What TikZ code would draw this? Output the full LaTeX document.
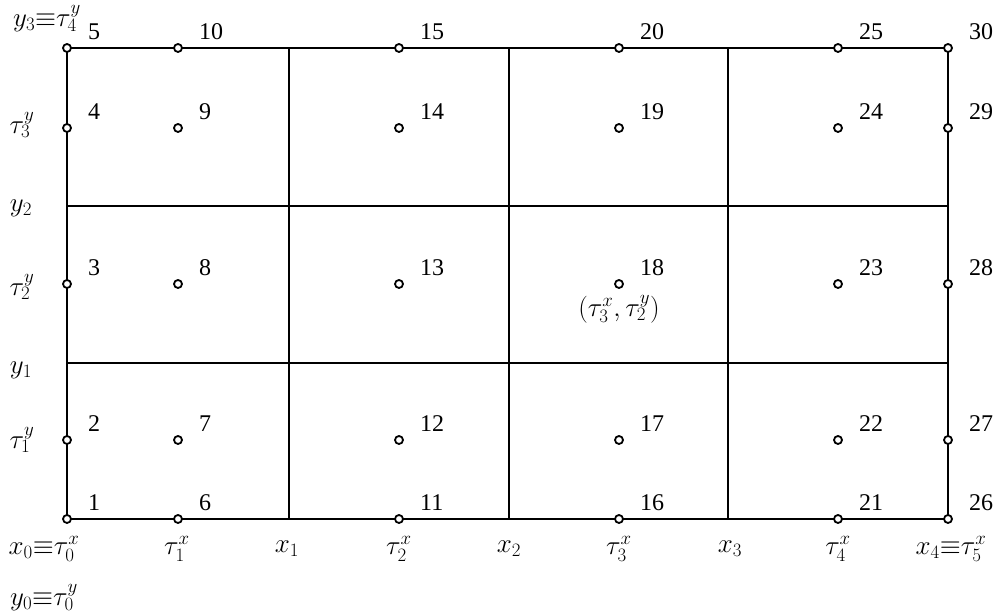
\documentclass[tikz,border=0pt]{standalone}
\usepackage{fix-cm}
\usepackage{fontspec}
\setmainfont{Liberation Serif}
\usetikzlibrary{calc}
\tikzset{
  knot/.style={circle,draw,fill=white,line width=1.8pt,inner sep=0pt,minimum size=8pt},
  num/.style={anchor=west,inner sep=0pt},
  axlbl/.style={font=\fontsize{27}{30}\selectfont},
  cellline/.style={line width=2.2pt},
  thinline/.style={line width=1.4pt},
}

\begin{document}
\begin{tikzpicture}[x=1pt,y=1pt,font=\fontsize{24}{28}\selectfont]
  \useasboundingbox (0,0) rectangle (997,615);

  % outer frame
  \coordinate (sw) at (67,96);
  \coordinate (ne) at (948,567);
  \draw[cellline] (sw) rectangle (ne);

  % vertical lines x1..x3
  \foreach \gx/\k in {289/1,509/2,728/3}{
    \coordinate (xb\k) at (\gx,96);
    \coordinate (xt\k) at (\gx,567);
    \draw[cellline] (xb\k) -- (xt\k);
  }
  % horizontal lines y1, y2
  \coordinate (yl1) at (67,252);
  \coordinate (yr1) at (948,252);
  \coordinate (yl2) at (67,409);
  \coordinate (yr2) at (948,409);
  \draw[cellline] (yl1) -- (yr1);
  \draw[thinline] (yl2) -- (yr2);

  % knots 1..30 with numbers
  \foreach \px [count=\c from 0] in {67,178,399,619,838,948}{
    \foreach \py [count=\r from 1] in {96,175,331,487,567}{
      \pgfmathtruncatemacro{\n}{5*\c+\r}
      \node[knot] (p\n) at (\px,\py) {};
      \node[num] (n\n) at ($(p\n)+(21,16)$) {\n};
    }
  }
  \node[axlbl] (pair) at (619,306) {$(\tau_3^x,\tau_2^y)$};

  % x labels
  \node[axlbl] (lx0) at (44,66) {$x_0{\equiv}\tau_0^x$};
  \node[axlbl] (lt1) at (177,66) {$\tau_1^x$};
  \node[axlbl] (lx1) at (287,66) {$x_1$};
  \node[axlbl] (lt2) at (399,66) {$\tau_2^x$};
  \node[axlbl] (lx2) at (509,66) {$x_2$};
  \node[axlbl] (lt3) at (619,66) {$\tau_3^x$};
  \node[axlbl] (lx3) at (730,66) {$x_3$};
  \node[axlbl] (lt4) at (838,66) {$\tau_4^x$};
  \node[axlbl] (lx4) at (951,66) {$x_4{\equiv}\tau_5^x$};
  \node[axlbl] (ly0) at (44,17) {$y_0{\equiv}\tau_0^y$};

  % y labels
  \node[axlbl] (ly3) at (47,596) {$y_3{\equiv}\tau_4^y$};
  \node[axlbl] (ls3) at (22,490) {$\tau_3^y$};
  \node[axlbl] (ly2) at (21,407) {$y_2$};
  \node[axlbl] (ls2) at (22,328) {$\tau_2^y$};
  \node[axlbl] (ly1) at (21,245) {$y_1$};
  \node[axlbl] (ls1) at (22,175) {$\tau_1^y$};
\end{tikzpicture}
\end{document}
